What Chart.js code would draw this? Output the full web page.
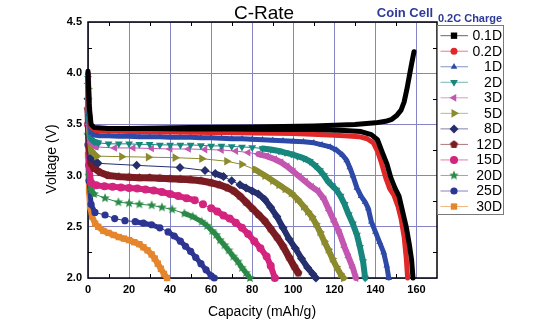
<!DOCTYPE html>
<html>
<head>
<meta charset="utf-8">
<script src="https://cdn.jsdelivr.net/npm/chart.js@4.4.1/dist/chart.umd.min.js"></script>
<style>
  html, body { margin: 0; padding: 0; background: #fff; }
  #rateChart { display: block; }
</style>
</head>
<body>
<canvas id="rateChart" width="550" height="321"></canvas>
<script>
// discharge curves: capacity (mAh/g) and voltage (V)
var cap01 = [0, 0.5, 1.5, 3, 10, 30, 50, 70, 90, 110, 125, 133, 138, 141, 143.5, 145.5, 147.5, 149.5, 151.5, 153, 155, 156.5, 157.6, 158.3];
var volt01 = [4.02, 3.7, 3.5, 3.47, 3.46, 3.46, 3.455, 3.455, 3.45, 3.45, 3.44, 3.43, 3.40, 3.35, 3.22, 3.12, 2.98, 2.88, 2.80, 2.67, 2.50, 2.33, 2.18, 2.0];

var cap02 = [0, 0.5, 1.5, 4, 20, 40, 60, 80, 100, 115, 125, 132, 136, 139, 141, 143, 145, 147, 149, 151, 152.5, 154, 155, 155.7];
var volt02 = [4.0, 3.65, 3.47, 3.44, 3.43, 3.425, 3.42, 3.415, 3.41, 3.40, 3.39, 3.38, 3.36, 3.32, 3.24, 3.12, 2.98, 2.87, 2.81, 2.70, 2.58, 2.40, 2.20, 2.0];

var cap1 = [0, 0.5, 1.5, 3, 5, 10, 15, 20, 25, 30, 35, 40, 45, 50, 55, 60, 65, 70, 75, 80, 85, 90, 95, 100, 105, 110, 114, 118, 121, 124, 126, 127.5, 129, 131, 133, 135, 136.5, 138, 140, 142, 144, 145.5, 146.5];
var volt1 = [4.0, 3.6, 3.42, 3.40, 3.39, 3.39, 3.385, 3.385, 3.38, 3.38, 3.38, 3.375, 3.375, 3.375, 3.37, 3.37, 3.365, 3.36, 3.36, 3.355, 3.35, 3.345, 3.34, 3.335, 3.33, 3.32, 3.30, 3.28, 3.25, 3.20, 3.15, 3.08, 3.0, 2.88, 2.80, 2.74, 2.68, 2.55, 2.45, 2.35, 2.25, 2.12, 2.0];

var cap2 = [0, 0.5, 1.5, 3, 5, 10, 15, 20, 25, 30, 35, 40, 45, 50, 55, 60, 65, 70, 75, 80, 85, 89, 93, 96, 99, 102, 105, 108, 110.5, 113, 115, 117, 119, 121, 123, 125, 127, 129, 131, 132.5, 134, 135];
var volt2 = [3.95, 3.55, 3.36, 3.33, 3.32, 3.31, 3.31, 3.31, 3.305, 3.305, 3.30, 3.30, 3.30, 3.30, 3.295, 3.29, 3.29, 3.285, 3.28, 3.275, 3.265, 3.255, 3.24, 3.225, 3.21, 3.19, 3.17, 3.14, 3.10, 3.05, 3.00, 2.94, 2.90, 2.86, 2.80, 2.72, 2.62, 2.53, 2.42, 2.30, 2.16, 2.0];

var cap3 = [0, 0.5, 1.5, 4, 13, 22, 31, 40, 49, 57, 65, 72, 78, 83, 87, 91, 94, 97, 100, 103, 106, 109, 112, 115, 117.5, 120, 122.5, 125, 127, 129, 130.5];
var volt3 = [3.9, 3.5, 3.32, 3.28, 3.27, 3.27, 3.265, 3.26, 3.26, 3.255, 3.25, 3.24, 3.225, 3.21, 3.19, 3.16, 3.13, 3.09, 3.04, 2.99, 2.94, 2.89, 2.85, 2.77, 2.66, 2.55, 2.44, 2.30, 2.20, 2.10, 2.0];

var cap5 = [0, 0.5, 1.5, 4.2, 16.4, 29.4, 42.4, 55.4, 67.6, 74.9, 81.3, 86.2, 90, 93, 96, 99, 102, 105, 107, 109, 111, 113, 115, 117, 119, 121, 123, 124.5];
var volt5 = [3.85, 3.45, 3.24, 3.19, 3.185, 3.18, 3.175, 3.165, 3.14, 3.11, 3.06, 3.00, 2.95, 2.91, 2.87, 2.83, 2.77, 2.70, 2.65, 2.60, 2.53, 2.45, 2.36, 2.28, 2.19, 2.11, 2.04, 2.0];

var cap8 = [0, 0.5, 1.5, 4.9, 23.7, 44.8, 57, 62, 66, 70, 74, 77, 80, 83, 86, 89, 92, 95, 98, 101, 104, 107, 109.5, 111];
var volt8 = [3.75, 3.4, 3.17, 3.12, 3.10, 3.08, 3.05, 3.02, 2.99, 2.95, 2.91, 2.88, 2.85, 2.82, 2.77, 2.69, 2.60, 2.49, 2.38, 2.29, 2.19, 2.10, 2.04, 2.0];

var cap12 = [0, 0.5, 1.5, 3, 6, 10, 15, 20, 25, 30, 35, 40, 45, 50, 55, 60, 64, 68, 71, 74, 77, 80, 83, 86, 89, 92, 95, 98, 100.5, 102.4];
var volt12 = [3.65, 3.3, 3.12, 3.07, 3.03, 3.0, 2.99, 2.985, 2.98, 2.98, 2.975, 2.97, 2.965, 2.96, 2.95, 2.93, 2.91, 2.88, 2.85, 2.80, 2.74, 2.68, 2.62, 2.56, 2.48, 2.40, 2.31, 2.20, 2.11, 2.05];

var cap15 = [0, 0.5, 1.5, 4, 8, 12, 16, 20, 24, 28, 32, 36, 40, 44, 48, 52, 56, 60, 63, 66, 69, 72, 75, 78, 81, 84, 87, 89, 91];
var volt15 = [3.5, 3.1, 2.93, 2.905, 2.895, 2.89, 2.885, 2.88, 2.875, 2.865, 2.855, 2.84, 2.82, 2.80, 2.78, 2.76, 2.72, 2.68, 2.65, 2.61, 2.58, 2.54, 2.49, 2.43, 2.36, 2.29, 2.21, 2.12, 2.0];

var cap20 = [0, 0.5, 1.5, 3, 8.3, 14.8, 20, 25, 31, 36, 41, 47, 51, 55.4, 58, 60.5, 62.5, 64.3, 66.5, 68.5, 70.8, 73, 75, 77, 78.9];
var volt20 = [3.4, 3.0, 2.86, 2.82, 2.78, 2.74, 2.73, 2.72, 2.71, 2.69, 2.67, 2.63, 2.60, 2.55, 2.51, 2.46, 2.42, 2.37, 2.32, 2.27, 2.21, 2.16, 2.10, 2.05, 2.0];

var cap25 = [0, 0.5, 1.5, 3.4, 8.3, 13, 18, 23, 27, 31, 35, 39, 42, 45, 47.5, 50, 52.5, 55, 57.5, 60, 61.5];
var volt25 = [3.3, 2.95, 2.72, 2.64, 2.615, 2.58, 2.56, 2.55, 2.535, 2.52, 2.49, 2.45, 2.41, 2.36, 2.31, 2.26, 2.20, 2.14, 2.08, 2.02, 2.0];

var cap30 = [0, 0.5, 1, 2, 3.5, 5, 7.5, 10, 12.5, 15, 17.5, 20, 22.5, 25, 27, 29, 31, 32.5, 34, 35.5, 37, 38.5];
var volt30 = [3.2, 2.85, 2.7, 2.6, 2.53, 2.50, 2.46, 2.44, 2.42, 2.40, 2.385, 2.37, 2.35, 2.33, 2.30, 2.27, 2.23, 2.19, 2.14, 2.09, 2.04, 2.0];

// 0.2C charge curve (black, not in legend)
var chargeCap = [0, 1, 3, 20, 50, 80, 110, 130, 140, 145, 148, 150.5, 152.5, 154, 155.3, 156.5, 157.7, 158.8];
var chargeVolt = [3.30, 3.42, 3.45, 3.46, 3.47, 3.475, 3.485, 3.50, 3.515, 3.53, 3.55, 3.59, 3.64, 3.72, 3.84, 3.97, 4.10, 4.21];

var seriesNames = ['0.1D', '0.2D', '1D', '2D', '3D', '5D', '8D', '12D', '15D', '20D', '25D', '30D'];
var seriesCap = [cap01, cap02, cap1, cap2, cap3, cap5, cap8, cap12, cap15, cap20, cap25, cap30];
var seriesVolt = [volt01, volt02, volt1, volt2, volt3, volt5, volt8, volt12, volt15, volt20, volt25, volt30];

var chartFont = '"Liberation Sans", Arial, Helvetica, sans-serif';

// little filled star / pentagon markers
function polyImage(color, r, n, inner) {
    var s = Math.ceil(2 * r) + 2;
    var c = document.createElement('canvas');
    c.width = s; c.height = s;
    var g = c.getContext('2d');
    var steps = inner ? n * 2 : n;
    g.beginPath();
    for (var i = 0; i < steps; i++) {
        var rr = (inner && i % 2) ? r * inner : r;
        var a = -Math.PI / 2 + i * 2 * Math.PI / steps;
        g.lineTo(s / 2 + rr * Math.cos(a), s / 2 + rr * Math.sin(a));
    }
    g.closePath();
    g.fillStyle = color;
    g.fill();
    return c;
}

var looks = [
    { color: '#000000', style: 'rect', radius: 0, legendRadius: 4.5, band: 5, solid: true },
    { color: '#e02828', style: 'circle', radius: 0, legendRadius: 3.5, band: 5, solid: true },
    { color: '#2d4aa8', style: 'triangle', rot: 0, radius: 3.8, band: 5, solid: true },
    { color: '#17877d', style: 'triangle', rot: 180, radius: 4.5, band: 6 },
    { color: '#c256b0', style: 'triangle', rot: 270, radius: 4.5, band: 6 },
    { color: '#8b8b2e', style: 'triangle', rot: 90, radius: 5, band: 6 },
    { color: '#262f6e', style: 'rectRot', radius: 4.5, band: 6 },
    { color: '#7a1c22', style: polyImage('#7a1c22', 4.2, 5), radius: 4, band: 7, solid: true },
    { color: '#d4247e', style: 'circle', radius: 4, band: 6 },
    { color: '#2a8a48', style: polyImage('#2a8a48', 5, 5, 0.45), radius: 4, band: 5 },
    { color: '#2c3592', style: 'circle', radius: 3.6, band: 5 },
    { color: '#e6862c', style: 'rect', radius: 4.5, band: 6 }
];

function toPoints(xs, ys) {
    return xs.map(function (x, i) { return { x: x, y: ys[i] }; });
}

// where markers crowd together (steep or closely spaced points) the curve reads as a solid band
function segWidth(look) {
    return function (ctx) {
        if (look.solid) return look.band;
        var dx = ctx.p1.x - ctx.p0.x, dy = ctx.p1.y - ctx.p0.y;
        var len = Math.sqrt(dx * dx + dy * dy);
        return (len < 9 || Math.abs(dy) > 0.5 * Math.abs(dx)) ? look.band : 1;
    };
}

var datasets = seriesNames.map(function (name, i) {
    var look = looks[i];
    return {
        label: name,
        data: toPoints(seriesCap[i], seriesVolt[i]),
        showLine: true,
        borderColor: look.color,
        backgroundColor: look.color,
        pointBackgroundColor: look.color,
        pointBorderColor: look.color,
        pointBorderWidth: 0,
        pointRadius: look.radius,
        pointHoverRadius: look.radius,
        pointStyle: look.style,
        pointRotation: look.rot || 0,
        borderWidth: look.band,
        borderCapStyle: 'round',
        borderJoinStyle: 'round',
        segment: { borderWidth: segWidth(look) },
        tension: 0,
        clip: 8
    };
});
datasets.push({
    label: 'charge',
    data: toPoints(chargeCap, chargeVolt),
    showLine: true,
    borderColor: '#000000',
    borderWidth: 5,
    borderCapStyle: 'round',
    borderJoinStyle: 'round',
    pointRadius: 0,
    tension: 0,
    clip: 8
});

// frame and small inward ticks
var framePlugin = {
    id: 'frame',
    beforeDatasetsDraw: function (chart) {
        var ctx = chart.ctx, ca = chart.chartArea;
        var xs = chart.scales.x, ys = chart.scales.y;
        ctx.save();
        ctx.strokeStyle = '#000';
        ctx.lineWidth = 1.5;
        ctx.strokeRect(ca.left, ca.top, ca.right - ca.left, ca.bottom - ca.top);
        ctx.lineWidth = 1;
        ctx.beginPath();
        for (var v = 10; v < 170; v += 20) {
            var px = Math.round(xs.getPixelForValue(v)) + 0.5;
            ctx.moveTo(px, ca.bottom); ctx.lineTo(px, ca.bottom - 4);
            ctx.moveTo(px, ca.top); ctx.lineTo(px, ca.top + 4);
        }
        for (var w = 2.25; w < 4.5; w += 0.5) {
            var py = Math.round(ys.getPixelForValue(w)) + 0.5;
            ctx.moveTo(ca.left, py); ctx.lineTo(ca.left + 4, py);
            ctx.moveTo(ca.right, py); ctx.lineTo(ca.right - 4, py);
        }
        ctx.stroke();
        ctx.restore();
    }
};

// titles, axis names and the boxed legend on the right
var textPlugin = {
    id: 'texts',
    afterDraw: function (chart) {
        var ctx = chart.ctx;
        ctx.save();
        ctx.textAlign = 'center';
        ctx.textBaseline = 'middle';
        ctx.fillStyle = '#000';
        ctx.font = '19px ' + chartFont;
        ctx.fillText('C-Rate', 264, 14);
        ctx.fillStyle = '#2d3a96';
        ctx.font = 'bold 13px ' + chartFont;
        ctx.fillText('Coin Cell', 405, 13);
        ctx.font = 'bold 11px ' + chartFont;
        ctx.fillText('0.2C Charge', 470, 19);
        ctx.fillStyle = '#000';
        ctx.font = '14px ' + chartFont;
        ctx.fillText('Capacity (mAh/g)', 262, 312);
        ctx.save();
        ctx.translate(52, 159);
        ctx.rotate(-Math.PI / 2);
        ctx.fillText('Voltage (V)', 0, 0);
        ctx.restore();

        // legend
        ctx.strokeStyle = '#7a7a7a';
        ctx.lineWidth = 1;
        ctx.strokeRect(437.5, 25.5, 66, 189);
        for (var i = 0; i < seriesNames.length; i++) {
            var look = looks[i];
            var y = 35.7 + i * 15.53;
            ctx.globalAlpha = 0.6;
            ctx.strokeStyle = look.color;
            ctx.beginPath();
            ctx.moveTo(440.5, y); ctx.lineTo(468, y);
            ctx.stroke();
            ctx.globalAlpha = 1;
            ctx.fillStyle = look.color;
            ctx.strokeStyle = look.color;
            if (typeof look.style === 'object') {
                ctx.drawImage(look.style, 454 - look.style.width / 2, y - look.style.height / 2);
            } else if (Chart.helpers && Chart.helpers.drawPoint) {
                Chart.helpers.drawPoint(ctx, {
                    pointStyle: look.style,
                    rotation: look.rot || 0,
                    radius: look.legendRadius || look.radius,
                    borderWidth: 0
                }, 454, y);
            }
            ctx.fillStyle = '#000';
            ctx.textAlign = 'right';
            ctx.font = '14px ' + chartFont;
            ctx.fillText(seriesNames[i], 502, y + 0.5);
        }
        ctx.restore();
    }
};

var gridColor = '#8585c6';
var tickFont = { family: chartFont, size: 11, weight: 'bold' };

new Chart(document.getElementById('rateChart').getContext('2d'), {
    type: 'scatter',
    data: { datasets: datasets },
    options: {
        responsive: false,
        animation: false,
        devicePixelRatio: 1,
        layout: { padding: { left: 44, right: 113, top: 22, bottom: 0 } },
        plugins: {
            legend: { display: false },
            tooltip: { enabled: false },
            title: { display: false }
        },
        scales: {
            x: {
                type: 'linear',
                min: 0,
                max: 170,
                afterFit: function (s) { s.height = 43; },
                grid: { color: gridColor, lineWidth: 1, drawTicks: false },
                border: { display: false },
                ticks: { stepSize: 20, includeBounds: false, padding: 5, color: '#000', font: tickFont, maxRotation: 0 }
            },
            y: {
                type: 'linear',
                min: 2,
                max: 4.5,
                afterFit: function (s) { s.width = 44; },
                grid: { color: gridColor, lineWidth: 1, drawTicks: false },
                border: { display: false },
                ticks: {
                    stepSize: 0.5, padding: 6, color: '#000', font: tickFont,
                    callback: function (v) { return Number(v).toFixed(1); }
                }
            }
        }
    },
    plugins: [framePlugin, textPlugin]
});
</script>
</body>
</html>
